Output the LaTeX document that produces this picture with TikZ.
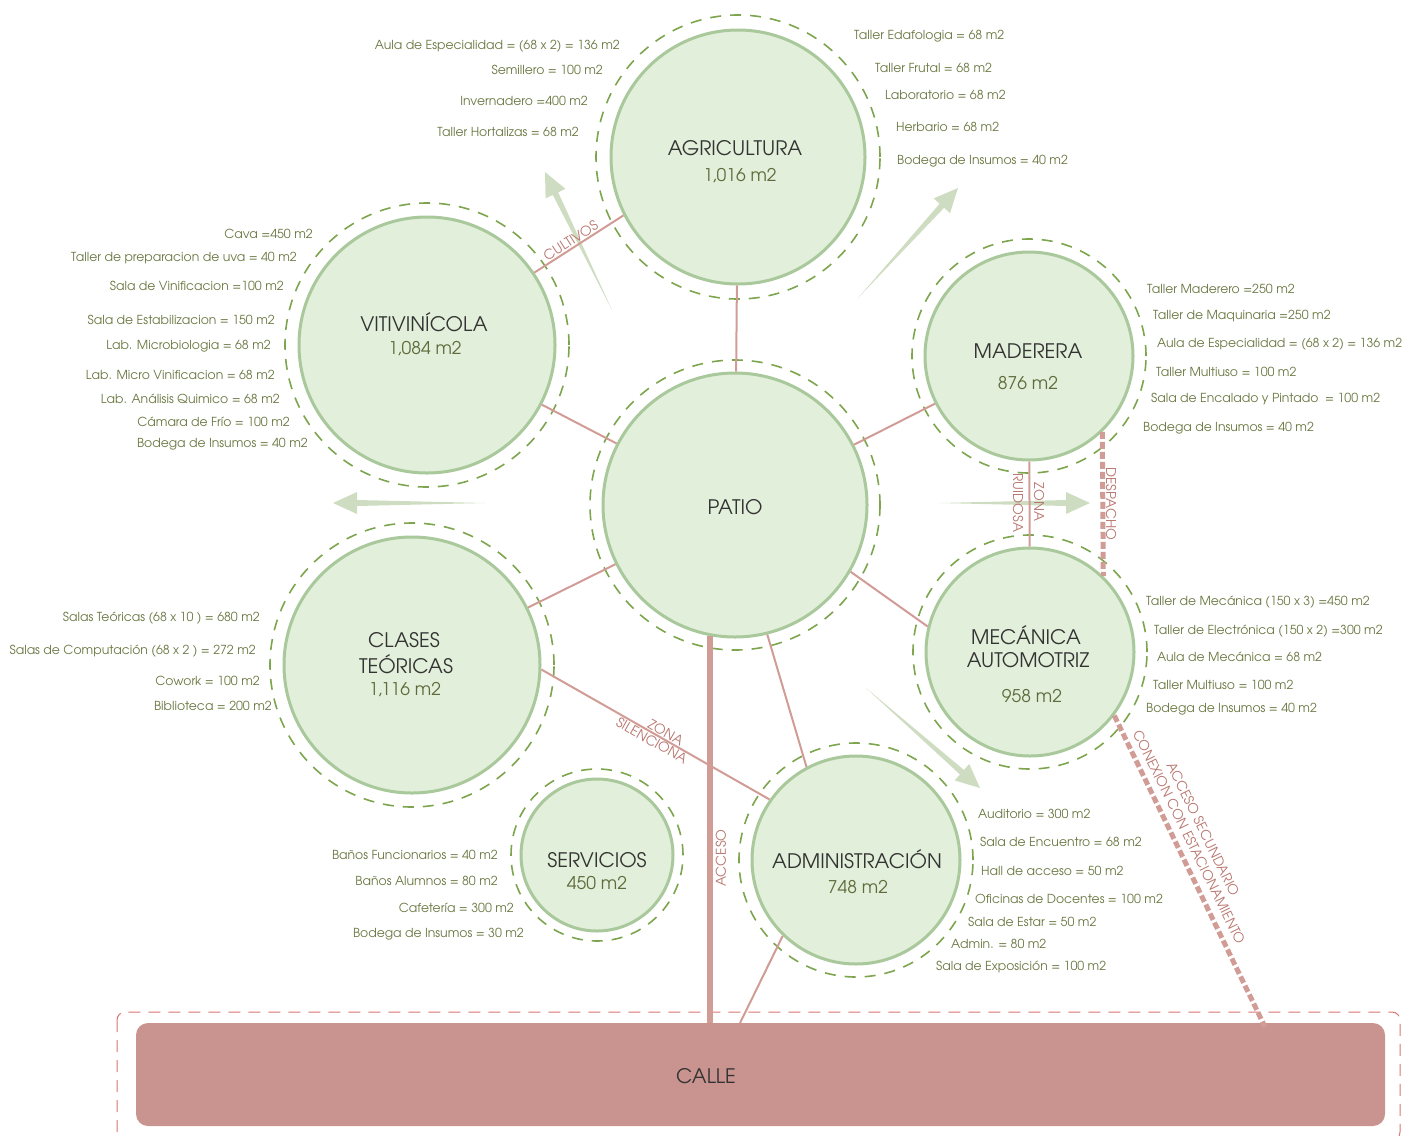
\documentclass[tikz,border=0pt]{standalone}
\usepackage{fontspec}
\setmainfont{TeX Gyre Adventor}
\usetikzlibrary{calc,arrows.meta}

\definecolor{zonefill}{HTML}{E2EFDA}
\definecolor{zoneline}{HTML}{A9C89B}
\definecolor{ringgreen}{HTML}{7DA54E}
\definecolor{listtext}{HTML}{6A7842}
\definecolor{areatext}{HTML}{5F6B3B}
\definecolor{linkpink}{HTML}{D29C96}
\definecolor{callefill}{HTML}{C9948F}
\definecolor{calleedge}{HTML}{D9756E}
\definecolor{arrowgreen}{HTML}{C9D9BA}
\definecolor{tagtext}{HTML}{B8766F}

\tikzset{
  zone/.style={circle, draw=zoneline, fill=zonefill, line width=3pt, inner sep=0pt},
  ring/.style={draw=ringgreen, line width=1.6pt, dash pattern=on 11pt off 9pt},
  title/.style={text=black!80, font=\fontsize{20}{22}\selectfont, inner sep=0pt},
  area/.style={text=areatext, font=\fontsize{17.5}{19}\selectfont, inner sep=0pt},
  item/.style={text=listtext, font=\fontsize{12.4}{14}\selectfont, inner sep=0pt},
  link/.style={draw=linkpink, line width=2pt},
  access/.style={draw=linkpink, line width=6pt},
  dispatch/.style={draw=linkpink, line width=5pt, dash pattern=on 7pt off 3pt},
  tag/.style={text=tagtext, font=\fontsize{13.5}{14}\selectfont, inner sep=1pt},
  calle/.style={fill=callefill, rounded corners=12pt, inner sep=0pt},
  garrow/.style={fill=arrowgreen, opacity=0.9},
}

\begin{document}
\begin{tikzpicture}[x=1pt,y=-1pt]
  \useasboundingbox (0,0) rectangle (1416,1136);

  % street
  \draw[calleedge, line width=1pt, dash pattern=on 12pt off 8pt, rounded corners=8pt]
    (117,1012) rectangle (1400,1140);
  \node[calle, minimum width=1249pt, minimum height=103pt] (calle) at (760.5,1074.5) {};
  \node[title] (calle-t) at (706,1076) {CALLE};

  % green flow arrows
  \foreach \ax/\ay/\bx/\by [count=\i] in {612/310/545/172, 858/298/958/188,
      485/503/333/503, 940/503/1090/503, 866/688/980/788} {
    \coordinate (tail\i) at (\ax,\ay);
    \coordinate (tip\i) at (\bx,\by);
    \coordinate (base\i) at ($(tip\i)!24pt!(tail\i)$);
    \fill[garrow] (tail\i) -- ($(base\i)!3pt!90:(tail\i)$) -- ($(base\i)!11pt!90:(tail\i)$)
      -- (tip\i) -- ($(base\i)!11pt!-90:(tail\i)$) -- ($(base\i)!3pt!-90:(tail\i)$) -- cycle;
  }

  % zones
  \node[zone, minimum size=254pt] (agri) at (738,157) {};
  \node[zone, minimum size=256pt] (viti) at (427,345) {};
  \node[zone, minimum size=264pt] (patio) at (735,505) {};
  \node[zone, minimum size=208pt] (made) at (1029,356) {};
  \node[zone, minimum size=208pt] (meca) at (1030,652) {};
  \node[zone, minimum size=256pt] (clases) at (412,665) {};
  \node[zone, minimum size=152pt] (serv) at (597,855) {};
  \node[zone, minimum size=208pt] (admin) at (856,860) {};

  % dashed rings
  \draw[ring] (agri.center) circle[radius=142pt];
  \draw[ring] (viti.center) circle[radius=142pt];
  \draw[ring] (patio.center) circle[radius=145pt];
  \draw[ring] (made.center) circle[radius=117pt];
  \draw[ring] (meca.center) circle[radius=117pt];
  \draw[ring] (clases.center) circle[radius=142pt];
  \draw[ring] (serv.center) circle[radius=86pt];
  \draw[ring] (admin.center) circle[radius=117pt];

  % links
  \draw[link] (agri) -- (patio);
  \draw[link] (viti) -- (patio);
  \draw[link] (made) -- (patio);
  \draw[link] (patio.-30) -- (meca.166);
  \draw[link] (clases) -- (patio);
  \draw[link] (viti.34) -- node[tag, sloped, above, pos=0.45] (cultivos) {CULTIVOS} (agri.207);
  \draw[link] (clases.-2) -- node[tag, sloped, above, pos=0.53] (zona1) {ZONA}
    node[tag, sloped, below, pos=0.5] (silencio) {SILENCIONA} (admin.145);
  \draw[link] (patio.-76) -- (admin.118);
  \coordinate (gate) at (740,1023);
  \draw[link] (admin.-134) -- (gate);
  \draw[access] (patio.-101) -- (patio.-101 |- calle.north);
  \node[tag, rotate=90] (acceso) at (721,858) {ACCESO};
  \draw[link] (made) -- (meca);
  \node[tag, rotate=-90] (zona2) at (1039,502) {ZONA};
  \node[tag, rotate=-90] (ruidosa) at (1018,503) {RUIDOSA};
  \draw[dispatch] (made.-46) -- (meca.46);
  \node[tag, rotate=-90] (despacho) at (1111,504) {DESPACHO};
  \coordinate (parking) at (1265,1027);
  \draw[dispatch] (meca.-37) -- (parking);
  \node[tag, rotate=-63.8] (secundario) at (1203,829) {ACCESO SECUNDARIO};
  \node[tag, rotate=-63.8] (estacion) at (1189,837) {CONEXION CON ESTACIONAMIENTO};

  % zone titles
  \node[title] (agri-t) at (735,148) {AGRICULTURA};
  \node[area] (agri-a) at (740,176) {1,016 m2};
  \node[title] (viti-t) at (424,322) {VITIVINÍCOLA};
  \node[area] (viti-a) at (425,348) {1,084 m2};
  \node[title] (patio-t) at (735,507) {PATIO};
  \node[title] (made-t) at (1028,351) {MADERERA};
  \node[area] (made-a) at (1028,383) {876 m2};
  \node[title] (meca-t1) at (1026,635) {MECÁNICA};
  \node[title] (meca-t2) at (1028,660) {AUTOMOTRIZ};
  \node[area] (meca-a) at (1032,696) {958 m2};
  \node[title] (clases-t1) at (404,640) {CLASES};
  \node[title] (clases-t2) at (406,664) {TEÓRICAS};
  \node[area] (clases-a) at (405,689) {1,116 m2};
  \node[title] (serv-t) at (597,860) {SERVICIOS};
  \node[area] (serv-a) at (597,883) {450 m2};
  \node[title] (admin-t) at (857,859) {ADMINISTRACIÓN};
  \node[area] (admin-a) at (858,887) {748 m2};

  % room lists
  \foreach \x/\y/\t [count=\i] in {620/46/{Aula de Especialidad = (68 x 2) = 136 m2},
      603/70/{Semillero = 100 m2}, 588/101/{Invernadero =400 m2},
      579/132/{Taller Hortalizas = 68 m2}}
    \node[item, anchor=east] (agril\i) at (\x,\y) {\t};
  \foreach \x/\y/\t [count=\i] in {854/36/{Taller Edafologia = 68 m2},
      875/68/{Taller Frutal = 68 m2}, 885/95/{Laboratorio = 68 m2},
      896/127/{Herbario = 68 m2}, 897/161/{Bodega de Insumos = 40 m2}}
    \node[item, anchor=west] (agrir\i) at (\x,\y) {\t};
  \foreach \x/\y/\t [count=\i] in {313/234/{Cava =450 m2},
      297/258/{Taller de preparacion de uva = 40 m2},
      284/286/{Sala de Vinificacion =100 m2},
      275/320/{Sala de Estabilizacion = 150 m2},
      271/346/{Lab. Microbiologia = 68 m2},
      275/375/{Lab. Micro Vinificacion = 68 m2},
      280/399/{Lab. Análisis Quimico = 68 m2},
      290/422/{Cámara de Frío = 100 m2},
      308/444/{Bodega de Insumos = 40 m2}}
    \node[item, anchor=east] (vitil\i) at (\x,\y) {\t};
  \foreach \x/\y/\t [count=\i] in {1147/289/{Taller Maderero =250 m2},
      1153/316/{Taller de Maquinaria =250 m2},
      1157/344/{Aula de Especialidad = (68 x 2) = 136 m2},
      1156/372/{Taller Multiuso = 100 m2},
      1151/399/{Sala de Encalado y Pintado\ \ = 100 m2},
      1143/428/{Bodega de Insumos = 40 m2}}
    \node[item, anchor=west] (mader\i) at (\x,\y) {\t};
  \foreach \x/\y/\t [count=\i] in {1146/602/{Taller de Mecánica (150 x 3) =450 m2},
      1154/631/{Taller de Electrónica (150 x 2) =300 m2},
      1157/657/{Aula de Mecánica = 68 m2},
      1153/685/{Taller Multiuso = 100 m2},
      1146/709/{Bodega de Insumos = 40 m2}}
    \node[item, anchor=west] (mecar\i) at (\x,\y) {\t};
  \foreach \x/\y/\t [count=\i] in {260/618/{Salas Teóricas (68 x 10 ) = 680 m2},
      256/651/{Salas de Computación (68 x 2 ) = 272 m2},
      260/681/{Cowork = 100 m2}, 272/706/{Biblioteca = 200 m2}}
    \node[item, anchor=east] (clasesl\i) at (\x,\y) {\t};
  \foreach \x/\y/\t [count=\i] in {498/855/{Baños Funcionarios = 40 m2},
      498/881/{Baños Alumnos = 80 m2}, 514/908/{Cafetería = 300 m2},
      524/934/{Bodega de Insumos = 30 m2}}
    \node[item, anchor=east] (servl\i) at (\x,\y) {\t};
  \foreach \x/\y/\t [count=\i] in {978/814/{Auditorio = 300 m2},
      980/842/{Sala de Encuentro = 68 m2}, 981/871/{Hall de acceso = 50 m2},
      975/899/{Oficinas de Docentes = 100 m2}, 968/922/{Sala de Estar = 50 m2},
      951/944/{Admin. = 80 m2}, 936/967/{Sala de Exposición = 100 m2}}
    \node[item, anchor=west] (adminr\i) at (\x,\y) {\t};
\end{tikzpicture}
\end{document}
